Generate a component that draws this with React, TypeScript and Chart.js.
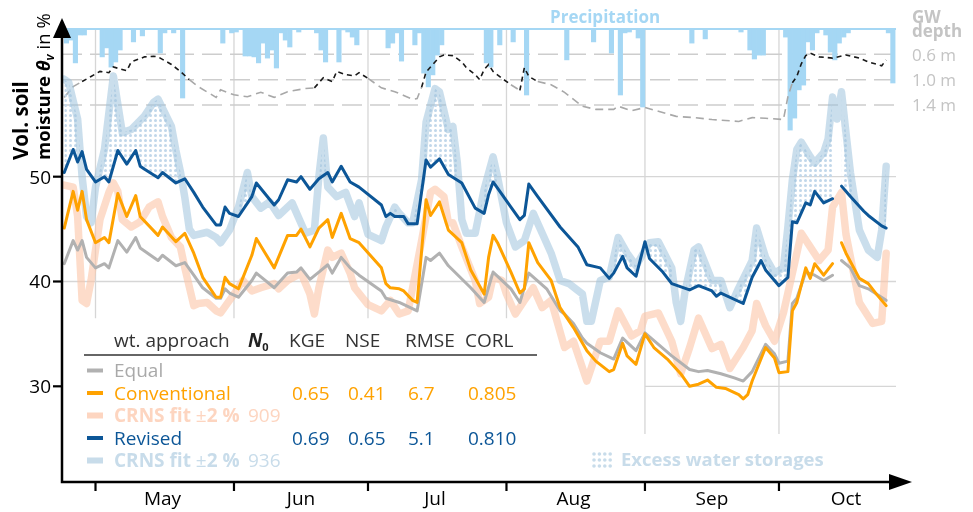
import React, { useEffect, useRef } from "react";
import { Chart, registerables } from "chart.js";

Chart.register(...registerables);

type Pt = [number, number | null];

// Days are counted from 1 April (1 May = 30, 1 Jun = 61, ...)
const monthStartDays = [30, 61, 91, 122, 153, 183];
const monthMidDays = [45, 76, 106, 137, 168, 198];
const monthLabels = ["May", "Jun", "Jul", "Aug", "Sep", "Oct"];
const moistureTicks = [30, 40, 50];
const gwTicks = [0.6, 1.0, 1.4];
const gwTickLabels = ["0.6 m", "1.0 m", "1.4 m"];

const precipDays = [23, 24, 25, 26, 27, 31, 32, 33, 34, 35, 38, 40, 44, 45, 47, 49, 58, 60, 61, 63, 64, 65, 66, 67, 68, 69, 70, 71, 72, 73, 75, 79, 80, 81, 84, 85, 86, 87, 88, 95, 96, 97, 98, 101, 102, 103, 104, 105, 106, 107, 117, 118, 120, 123, 126, 135, 141, 145, 147, 148, 149, 151, 152, 163, 166, 174, 176, 177, 178, 179, 184, 185, 186, 187, 188, 189, 190, 191, 193, 194, 195, 196, 197, 198, 207, 208];
const precipMm = [4.7, 3.7, 11.3, 2, 2, 9.3, 6.3, 12.7, 11, 7, 4.3, 2.3, 8, 1.3, 1.3, 23, 4.7, 1.3, 1, 9, 9, 9.3, 11.3, 4.7, 9.7, 7, 13, 1.3, 3.7, 6, 1, 1.3, 7, 11, 11, 0.3, 1, 2.7, 5.3, 6.3, 4.7, 1.3, 10.7, 5.3, 1.3, 14.7, 19.3, 15.3, 8.7, 5.3, 11.3, 12.7, 5.3, 4.3, 22, 10.3, 4.3, 8, 22, 1.3, 1, 3, 26, 4.7, 3.3, 1, 7, 10, 8.7, 8.7, 2.7, 33.7, 29.7, 20.3, 18.7, 4.3, 7, 1.3, 2, 7.7, 10.3, 4.7, 2.7, 1.3, 1.3, 18];

const gwDepth: Pt[] = [[23, 1.28], [25, 1.11], [27, 1.03], [29, 0.95], [31, 0.87], [33, 0.89], [34, 0.8], [37, 0.86], [38, 0.72], [41, 0.64], [43, 0.63], [44, 0.64], [47, 0.76], [49, 0.87], [51, 1.0], [53, 1.11], [57, 1.28], [58, 1.16], [61, 1.24], [64, 1.27], [67, 1.2], [70, 1.28], [73, 1.19], [77, 1.14], [79, 1.13], [81, 0.97], [82, 1.0], [83, 1.03], [84, 0.87], [86, 0.92], [88, 0.94], [89, 0.89], [91, 0.98], [94, 1.13], [97, 1.19], [99, 1.25], [101, 1.31], [102, 1.3], [103, 1.12], [104, 0.88], [105, 0.8], [107, 0.64], [108, 0.61], [110, 0.62], [112, 0.72], [113, 0.81], [115, 0.92], [116, 1.0], [117, 0.84], [118, 0.76], [119, 0.87], [121, 0.98], [123, 1.08], [125, 1.17], [126, 0.81], [127, 0.95], [129, 1.03], [132, 1.08], [135, 1.2], [139, 1.42], [142, 1.47], [146, 1.47], [147, 1.42], [150, 1.49], [153, 1.44], [156, 1.5], [160, 1.58], [164, 1.6], [168, 1.63], [174, 1.66], [177, 1.6], [180, 1.61], [184, 1.63], [185, 1.27], [186, 1.05], [187, 0.95], [188, 0.75], [189, 0.62], [190, 0.58], [192, 0.64], [195, 0.66], [198, 0.61], [201, 0.66], [203, 0.72], [206, 0.78], [207, 0.69]];

const equalSeries: Pt[] = [[23, 41.7], [25, 43.9], [26, 43.0], [27, 43.9], [28, 42.3], [30, 41.3], [32, 41.7], [33, 41.3], [35, 43.9], [37, 42.8], [39, 44.2], [40, 43.2], [44, 42.0], [45, 42.5], [48, 41.5], [50, 41.8], [52, 40.6], [54, 39.4], [57, 38.4], [58, 38.4], [59, 39.3], [60, 38.9], [62, 38.5], [65, 40.1], [66, 40.8], [68, 40.1], [70, 39.4], [73, 40.8], [75, 40.9], [76, 41.3], [78, 40.2], [80, 40.9], [82, 41.6], [83, 40.8], [85, 42.3], [87, 41.3], [89, 40.6], [94, 39.1], [95, 38.4], [98, 38.0], [102, 37.2], [104, 42.3], [105, 42.0], [107, 42.7], [109, 41.5], [114, 39.4], [117, 38.0], [119, 40.9], [123, 39.3], [125, 38.0], [127, 40.8], [131, 39.3], [134, 37.2], [135, 36.9], [137, 36.0], [139, 34.6], [140, 34.1], [143, 33.2], [146, 32.6], [148, 34.6], [151, 33.4], [153, 35.1], [156, 34.0], [159, 32.9], [163, 31.6], [165, 31.4], [167, 31.5], [170, 31.2], [173, 30.8], [175, 30.5], [177, 31.4], [180, 34.0], [182, 33.1], [183, 32.2], [185, 32.4], [186, 37.9], [187, 38.4], [189, 40.9], [191, 40.6], [193, 40.1], [195, 40.6], [196, null], [197, 42.0], [199, 41.3], [201, 39.6], [203, 39.3], [207, 38.2]];

const conventionalSeries: Pt[] = [[23, 45.1], [25, 48.6], [26, 46.8], [27, 48.6], [28, 45.9], [30, 43.7], [32, 44.2], [33, 43.7], [35, 48.4], [37, 46.2], [39, 48.2], [40, 46.2], [44, 44.4], [45, 45.2], [48, 43.8], [50, 44.6], [52, 42.7], [54, 40.4], [57, 38.5], [58, 38.5], [59, 40.4], [60, 39.8], [62, 39.3], [65, 42.5], [66, 44.1], [68, 42.7], [70, 41.3], [73, 44.4], [75, 44.4], [76, 45.0], [78, 43.3], [80, 45.1], [82, 45.9], [83, 44.2], [85, 46.5], [87, 44.1], [89, 43.7], [94, 41.3], [95, 39.8], [96, 39.4], [98, 39.3], [99, 39.1], [101, 38.2], [102, 38.0], [104, 47.8], [105, 46.3], [107, 47.6], [109, 44.9], [112, 43.7], [114, 41.1], [117, 38.8], [118, 42.3], [119, 44.4], [120, 43.7], [123, 40.9], [125, 38.9], [126, 39.3], [127, 43.7], [129, 41.8], [132, 40.1], [134, 37.5], [137, 35.6], [140, 33.4], [142, 32.4], [145, 31.4], [146, 31.6], [148, 34.1], [149, 32.9], [151, 32.1], [153, 35.0], [155, 33.7], [158, 32.6], [161, 31.2], [163, 30.0], [165, 30.2], [167, 30.6], [169, 29.9], [171, 29.8], [174, 29.2], [175, 28.8], [176, 29.2], [177, 30.5], [180, 33.7], [182, 32.7], [183, 31.3], [185, 31.4], [186, 37.2], [187, 38.0], [189, 41.3], [190, 40.3], [191, 41.7], [193, 40.6], [195, 41.7], [196, null], [197, 43.7], [198, 42.7], [201, 40.3], [203, 39.8], [205, 38.7], [207, 37.7]];

const crns909Series: Pt[] = [[23, 49.2], [25, 49.0], [26, 46.2], [27, 38.2], [28, 37.9], [29, 40.1], [31, 45.9], [33, 48.5], [34, 49.4], [35, 48.6], [36, 45.9], [38, 45.2], [40, 45.7], [42, 47.1], [44, 47.6], [45, 46.2], [47, 44.2], [49, 43.3], [50, 41.3], [52, 37.7], [53, 37.9], [55, 38.0], [57, 37.2], [58, 37.0], [61, 38.8], [63, 40.1], [65, 39.1], [67, 39.4], [70, 39.8], [71, 39.3], [73, 40.1], [76, 40.8], [78, 38.8], [79, 36.9], [80, 39.4], [82, 43.0], [83, 42.3], [85, 42.7], [87, 40.8], [88, 39.4], [91, 37.8], [94, 37.2], [96, 38.2], [98, 36.9], [100, 37.2], [103, 43.9], [105, 48.5], [106, 48.8], [108, 48.1], [109, 45.6], [110, 45.6], [112, 43.3], [115, 40.1], [116, 37.9], [118, 38.5], [119, 40.4], [121, 40.1], [122, 38.8], [124, 36.9], [126, 38.2], [128, 39.4], [130, 37.5], [132, 38.2], [135, 33.7], [137, 34.3], [140, 30.5], [143, 34.3], [145, 34.3], [147, 37.2], [150, 34.8], [152, 35.3], [153, 36.7], [156, 37.0], [159, 34.3], [161, 31.2], [163, 33.7], [165, 36.5], [168, 33.6], [170, 34.0], [172, 31.7], [175, 33.7], [177, 35.3], [178, 37.9], [180, 35.8], [182, 34.3], [184, 37.0], [186, 40.8], [188, 44.6], [190, 43.3], [192, 42.0], [194, 43.0], [195, 47.1], [197, 48.5], [198, 44.5], [201, 38.0], [204, 36.0], [206, 36.2], [207, 42.7]];

const revisedSeries: Pt[] = [[23, 50.4], [25, 52.6], [26, 51.4], [27, 52.4], [28, 50.7], [30, 49.5], [32, 50.0], [33, 49.5], [35, 52.5], [37, 51.2], [39, 52.5], [40, 51.0], [41, 50.7], [44, 49.9], [45, 50.4], [48, 49.4], [50, 49.8], [52, 48.5], [54, 47.1], [57, 45.4], [58, 45.4], [59, 47.1], [60, 46.5], [62, 46.2], [65, 48.1], [66, 49.4], [70, 47.3], [71, 47.8], [73, 49.7], [75, 49.5], [76, 50.0], [78, 48.8], [80, 49.8], [82, 50.4], [83, 49.5], [85, 51.0], [87, 49.5], [89, 49.0], [94, 47.3], [95, 46.2], [96, 46.5], [97, 46.2], [99, 46.2], [100, 45.5], [102, 45.5], [104, 51.6], [105, 50.9], [107, 51.7], [109, 50.2], [112, 49.4], [115, 47.0], [117, 46.5], [118, 48.3], [119, 49.5], [120, 48.9], [123, 47.1], [125, 45.9], [126, 46.3], [127, 49.3], [129, 48.1], [134, 45.2], [138, 43.3], [140, 41.6], [143, 41.3], [145, 40.3], [146, 40.8], [148, 42.4], [149, 41.3], [151, 40.5], [153, 43.8], [154, 42.2], [157, 40.9], [159, 39.8], [163, 39.2], [165, 39.6], [168, 39.1], [169, 38.6], [170, 38.9], [175, 37.9], [177, 40.4], [179, 42.0], [180, 41.1], [183, 39.6], [185, 40.4], [186, 45.7], [187, 45.6], [189, 47.5], [190, 47.3], [191, 48.6], [193, 47.5], [195, 47.9], [196, null], [197, 49.1], [199, 48.1], [202, 46.7], [203, 46.3], [206, 45.3], [207, 45.1]];

const crns936Series: Pt[] = [[23, 59.3], [24, 59.0], [26, 55.5], [27, 50.0], [28, 46.2], [29, 45.6], [30, 49.0], [32, 52.6], [34, 59.6], [36, 54.2], [38, 54.5], [41, 55.8], [43, 57.1], [44, 57.4], [47, 54.8], [48, 52.5], [49, 50.5], [50, 48.0], [51, 45.0], [52, 44.4], [55, 44.7], [57, 44.2], [58, 43.7], [60, 44.9], [62, 47.1], [64, 50.4], [65, 48.1], [67, 47.0], [69, 47.6], [71, 46.3], [74, 47.5], [77, 44.6], [79, 44.9], [80, 50.0], [81, 53.7], [82, 49.0], [84, 48.1], [86, 48.5], [88, 46.2], [89, 47.5], [91, 44.5], [94, 43.9], [95, 45.2], [97, 47.1], [98, 46.5], [100, 45.6], [101, 45.6], [103, 49.7], [104, 55.2], [106, 58.4], [107, 58.1], [109, 54.5], [110, 54.8], [111, 51.3], [112, 45.9], [113, 44.6], [115, 44.6], [117, 48.8], [119, 51.9], [120, 50.0], [122, 45.6], [124, 43.3], [126, 43.9], [128, 46.5], [130, 44.6], [132, 42.7], [134, 40.1], [136, 39.8], [139, 38.8], [140, 36.2], [141, 36.2], [143, 40.1], [145, 40.4], [147, 44.2], [149, 42.7], [151, 41.5], [154, 43.7], [156, 43.8], [159, 41.3], [160, 38.0], [161, 36.2], [162, 39.1], [164, 43.0], [165, 43.3], [168, 40.1], [170, 40.1], [172, 37.5], [174, 39.4], [177, 42.0], [178, 45.1], [180, 42.3], [182, 40.8], [184, 41.3], [185, 45.2], [186, 49.7], [187, 52.6], [188, 53.3], [190, 51.9], [191, 51.3], [193, 52.3], [194, 53.6], [195, 57.6], [196, 55.5], [197, 58.1], [198, 54.2], [199, 50.4], [201, 44.9], [203, 43.0], [205, 42.3], [206, 44.9], [207, 51.0]];

const headerLabels = ["wt. approach", "KGE", "NSE", "RMSE", "CORL"];
const conventionalStats = ["0.65", "0.41", "6.7", "0.805"];
const revisedStats = ["0.69", "0.65", "5.1", "0.810"];
const n0Values = ["909", "936"];

// ---- styles ----
const FAM = '"Open Sans", sans-serif';
const F = (size: number, weight = "normal", style = "normal") => `${style} ${weight} ${size}px ${FAM}`;
const C_GREY = "#b1b1b1";
const C_ORANGE = "#ffa200";
const C_LORANGE = "rgba(252, 196, 166, 0.6)";
const C_BLUE = "#0c5697";
const C_LBLUE = "rgba(158, 194, 221, 0.55)";
const C_PRECIP = "#a5d7f4";
const C_GRID = "#d6d6d6";
const C_GWTXT = "#c4c4c4";
const T_GREY = "#a9a9a9";
const T_LORANGE = "#fdd5c0";
const T_LBLUE = "#c8dcea";
const LEGEND_TOP = 36.5; // moisture value where the legend block begins
const NOTE_TOP = 25.45; // moisture value where the note block begins

const toXY = (pts: Pt[]) => pts.map(([x, y]) => ({ x, y }));

type Run = { t: string; f: string; c: string; dy?: number };
function drawRuns(ctx: CanvasRenderingContext2D, runs: Run[], x: number, y: number) {
  let cx = x;
  for (const r of runs) {
    ctx.font = r.f;
    ctx.fillStyle = r.c;
    ctx.fillText(r.t, cx, y + (r.dy || 0));
    cx += ctx.measureText(r.t).width;
  }
}

const decorPlugin = {
  id: "decor",
  beforeDatasetsDraw(chart: any) {
    const { ctx, chartArea: a, scales } = chart;
    const xs = scales.x, ys = scales.y, gs = scales.yG, ps = scales.yP;
    const line = (x0: number, y0: number, x1: number, y1: number) => {
      ctx.beginPath();
      ctx.moveTo(x0, y0);
      ctx.lineTo(x1, y1);
      ctx.stroke();
    };
    ctx.save();
    ctx.strokeStyle = C_GRID;
    ctx.lineWidth = 1.3;
    const legendRight = xs.getPixelForValue(monthStartDays[4]);
    monthStartDays.forEach((d) => {
      const px = xs.getPixelForValue(d);
      const bottom = px >= legendRight - 1 ? ys.getPixelForValue(NOTE_TOP) : ys.getPixelForValue(LEGEND_TOP);
      line(px, a.top, px, bottom);
    });
    moistureTicks.forEach((v) => {
      const py = ys.getPixelForValue(v);
      line(v < LEGEND_TOP ? legendRight : a.left, py, a.right, py);
    });
    ctx.strokeStyle = "#cdcdcd";
    ctx.lineWidth = 1.5;
    ctx.setLineDash([20, 8]);
    gwTicks.forEach((v) => {
      const py = gs.getPixelForValue(v);
      line(a.left, py, a.right + 6, py);
    });
    ctx.setLineDash([]);
    ctx.strokeStyle = C_PRECIP;
    ctx.lineWidth = 2;
    const p0 = ps.getPixelForValue(0);
    line(a.left, p0, a.right, p0);
    ctx.restore();
  },
  afterDatasetsDraw(chart: any) {
    const { ctx, chartArea: a, scales } = chart;
    const xs = scales.x, ys = scales.y, gs = scales.yG;
    ctx.save();
    ctx.textBaseline = "alphabetic";
    // axes
    ctx.strokeStyle = "#000";
    ctx.fillStyle = "#000";
    ctx.lineWidth = 2.5;
    ctx.beginPath();
    ctx.moveTo(a.left, 28);
    ctx.lineTo(a.left, a.bottom);
    ctx.lineTo(882, a.bottom);
    ctx.stroke();
    ctx.beginPath();
    ctx.moveTo(a.left, 10);
    ctx.lineTo(a.left - 9, 30);
    ctx.lineTo(a.left + 9, 30);
    ctx.closePath();
    ctx.fill();
    ctx.beginPath();
    ctx.moveTo(904, a.bottom);
    ctx.lineTo(881, a.bottom - 8);
    ctx.lineTo(881, a.bottom + 8);
    ctx.closePath();
    ctx.fill();
    // y ticks
    ctx.lineWidth = 2.2;
    ctx.font = F(19);
    ctx.textAlign = "right";
    moistureTicks.forEach((v) => {
      const py = ys.getPixelForValue(v);
      ctx.beginPath();
      ctx.moveTo(a.left - 9, py);
      ctx.lineTo(a.left, py);
      ctx.stroke();
      ctx.fillText(String(v), a.left - 11, py + 7);
    });
    // x ticks
    ctx.textAlign = "center";
    monthStartDays.forEach((d) => {
      const px = xs.getPixelForValue(d);
      ctx.beginPath();
      ctx.moveTo(px, a.bottom);
      ctx.lineTo(px, a.bottom + 9);
      ctx.stroke();
    });
    ctx.font = F(19);
    monthMidDays.forEach((d, i) => ctx.fillText(monthLabels[i], xs.getPixelForValue(d), 497));
    // y title
    ctx.textAlign = "left";
    ctx.save();
    ctx.translate(20, 152);
    ctx.rotate(-Math.PI / 2);
    drawRuns(ctx, [{ t: "Vol. soil", f: F(20.5, "bold"), c: "#000" }], 0, 0);
    ctx.restore();
    ctx.save();
    ctx.translate(41.5, 152);
    ctx.rotate(-Math.PI / 2);
    drawRuns(ctx, [
      { t: "moisture ", f: F(18.5, "bold"), c: "#000" },
      { t: "θ", f: F(18.5, "bold", "italic"), c: "#000" },
      { t: "v", f: F(12, "bold", "italic"), c: "#000", dy: 4 },
      { t: " in %", f: F(18.5), c: "#000" },
    ], 0, 0);
    ctx.restore();
    // top labels
    drawRuns(ctx, [{ t: "Precipitation", f: F(17, "bold"), c: C_PRECIP }], 542, 15);
    drawRuns(ctx, [{ t: "GW", f: F(17, "bold"), c: C_GWTXT }], 904, 15);
    drawRuns(ctx, [{ t: "depth", f: F(17, "bold"), c: C_GWTXT }], 904, 28.5);
    gwTicks.forEach((v, i) => drawRuns(ctx, [{ t: gwTickLabels[i], f: F(17), c: C_GWTXT }], 904, gs.getPixelForValue(v) + 6.5));
    // note
    ctx.fillStyle = T_LBLUE;
    for (let i = 0; i < 4; i++) for (let j = 0; j < 3; j++) {
      ctx.beginPath();
      ctx.arc(586 + i * 5.4, 446 + j * 6, 1.8, 0, Math.PI * 2);
      ctx.fill();
    }
    drawRuns(ctx, [{ t: "Excess water storages", f: F(18.5, "bold"), c: T_LBLUE }], 613, 458);
    // legend table
    const hdrY = 339;
    const cols = [106, 281, 337, 397, 457];
    const n0X = 240;
    headerLabels.forEach((h, i) => drawRuns(ctx, [{ t: h, f: F(19), c: "#333" }], cols[i], hdrY));
    drawRuns(ctx, [
      { t: "N", f: F(19, "bold", "italic"), c: "#222" },
      { t: "0", f: F(11, "bold"), c: "#222", dy: 4 },
    ], n0X, hdrY);
    ctx.strokeStyle = "#333";
    ctx.lineWidth = 1.5;
    ctx.beginPath();
    ctx.moveTo(76, 347);
    ctx.lineTo(529, 347);
    ctx.stroke();
    const rows = [369, 391.5, 414, 436.5, 459];
    const sw = (y: number, c: string, w: number) => {
      ctx.fillStyle = c;
      ctx.fillRect(79, y - 6.5 - w / 2, 16, w);
    };
    sw(rows[0], C_GREY, 4);
    drawRuns(ctx, [{ t: "Equal", f: F(19), c: T_GREY }], 106, rows[0]);
    sw(rows[1], C_ORANGE, 4);
    drawRuns(ctx, [{ t: "Conventional", f: F(19), c: C_ORANGE }], 106, rows[1]);
    conventionalStats.forEach((s, i) => drawRuns(ctx, [{ t: s, f: F(19), c: C_ORANGE }], cols[i + 1] + 3, rows[1]));
    sw(rows[2], T_LORANGE, 6);
    drawRuns(ctx, [
      { t: "CRNS fit", f: F(19, "bold"), c: T_LORANGE },
      { t: " ±", f: F(19), c: T_LORANGE },
      { t: "2 %", f: F(19, "bold"), c: T_LORANGE },
    ], 106, rows[2]);
    drawRuns(ctx, [{ t: n0Values[0], f: F(19), c: T_LORANGE }], n0X, rows[2]);
    sw(rows[3], C_BLUE, 4);
    drawRuns(ctx, [{ t: "Revised", f: F(19), c: C_BLUE }], 106, rows[3]);
    revisedStats.forEach((s, i) => drawRuns(ctx, [{ t: s, f: F(19), c: C_BLUE }], cols[i + 1] + 3, rows[3]));
    sw(rows[4], T_LBLUE, 6);
    drawRuns(ctx, [
      { t: "CRNS fit", f: F(19, "bold"), c: T_LBLUE },
      { t: " ±", f: F(19), c: T_LBLUE },
      { t: "2 %", f: F(19, "bold"), c: T_LBLUE },
    ], 106, rows[4]);
    drawRuns(ctx, [{ t: n0Values[1], f: F(19), c: T_LBLUE }], n0X, rows[4]);
    ctx.restore();
  },
};

export default function App() {
  const ref = useRef<HTMLCanvasElement>(null);
  useEffect(() => {
    const canvas = ref.current!;
    const ctx = canvas.getContext("2d")!;
    const tile = document.createElement("canvas");
    tile.width = 5;
    tile.height = 5;
    const tctx = tile.getContext("2d")!;
    tctx.fillStyle = "#c1d7ea";
    tctx.beginPath();
    tctx.arc(2.5, 2.5, 1.5, 0, Math.PI * 2);
    tctx.fill();
    const dots = ctx.createPattern(tile, "repeat");

    const lineDs = (label: string, pts: Pt[], color: string, width: number, order: number, extra: any = {}) => ({
      type: "line" as const,
      label,
      data: toXY(pts),
      borderColor: color,
      borderWidth: width,
      pointRadius: 0,
      tension: 0,
      spanGaps: false,
      borderJoinStyle: "round" as const,
      borderCapStyle: "round" as const,
      fill: false,
      yAxisID: "y",
      order,
      ...extra,
    });

    const chart = new Chart(ctx, {
      type: "line",
      data: {
        datasets: [
          {
            type: "bar",
            label: "Precipitation",
            // each bar covers the whole day
            data: precipDays.map((d, i) => ({ x: d + 0.5, y: precipMm[i] })),
            backgroundColor: C_PRECIP,
            borderWidth: 0,
            barPercentage: 1,
            categoryPercentage: 1,
            yAxisID: "yP",
            order: 10,
          } as any,
          {
            type: "line",
            label: "GW depth",
            data: toXY(gwDepth),
            borderWidth: 1.6,
            borderColor: "#222",
            pointRadius: 0,
            tension: 0,
            fill: false,
            yAxisID: "yG",
            order: 8,
            segment: {
              borderColor: (c: any) => ((c.p0.parsed.y + c.p1.parsed.y) / 2 < 1.05 ? "#1a1a1a" : "#a8a8a8"),
              borderDash: (c: any) => ((c.p0.parsed.y + c.p1.parsed.y) / 2 < 1.05 ? [5, 4] : [8, 5]),
            },
          } as any,
          lineDs("CRNS fit 909", crns909Series, C_LORANGE, 7.5, 6),
          lineDs("CRNS fit 936", crns936Series, C_LBLUE, 7.5, 5, {
            fill: { target: 6, above: dots, below: "rgba(0,0,0,0)" },
          }),
          lineDs("Equal", equalSeries, C_GREY, 3, 3),
          lineDs("Conventional", conventionalSeries, C_ORANGE, 3, 2),
          lineDs("Revised", revisedSeries, C_BLUE, 3, 1),
        ],
      },
      options: {
        animation: false,
        responsive: false,
        devicePixelRatio: 1,
        events: [],
        layout: { padding: { left: 54, top: 21, right: 69, bottom: 30 } },
        scales: {
          x: { type: "linear", min: 22.5, max: 209.2, offset: false, display: false },
          y: { type: "linear", min: 20.87, max: 64.09, display: false },
          yG: { type: "linear", min: 0.2, max: 7.356, reverse: true, display: false },
          yP: { type: "linear", min: 0, max: 151, reverse: true, display: false },
        },
        plugins: {
          legend: { display: false },
          tooltip: { enabled: false },
        },
      } as any,
      plugins: [decorPlugin],
    });
    return () => chart.destroy();
  }, []);
  return (
    <canvas
      ref={ref}
      width={957}
      height={504}
      style={{ display: "block", position: "absolute", left: 8, top: 8 }}
    />
  );
}
